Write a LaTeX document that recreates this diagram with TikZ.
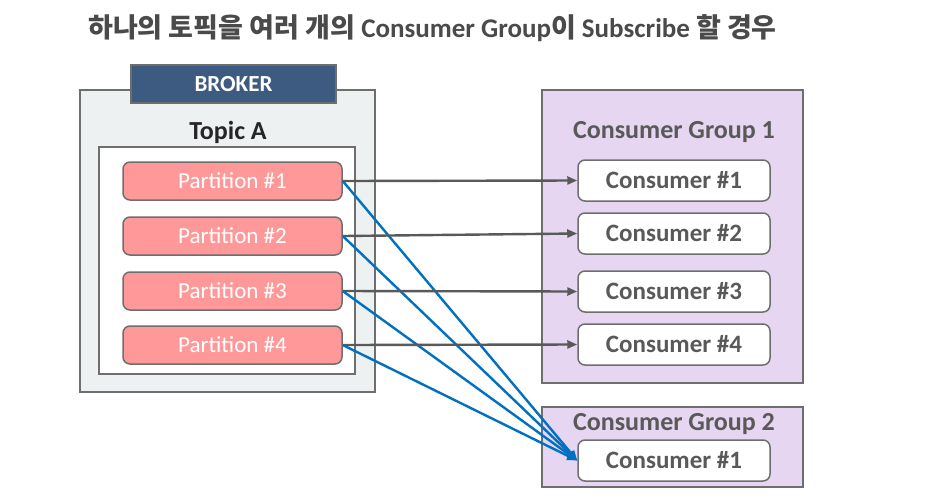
\documentclass[tikz,border=0pt]{standalone}
\usepackage{fontspec}
\setmainfont{Carlito}
\newfontfamily\krfont{Noto Sans CJK KR}
\usetikzlibrary{arrows.meta}
\definecolor{brokerblue}{HTML}{3D5A80}
\definecolor{brokerfill}{HTML}{EEF1F2}
\definecolor{linegray}{HTML}{6E6E6E}
\definecolor{partpink}{HTML}{FF9999}
\definecolor{groupfill}{HTML}{E6D6F1}
\definecolor{textgray}{HTML}{595959}
\definecolor{titlegray}{HTML}{4A4A4A}
\definecolor{arrowblue}{HTML}{0070C0}

\begin{document}
\begin{tikzpicture}[x=1pt,y=-1pt,
    box/.style={draw=linegray,line width=1.5pt,inner sep=0pt},
    part/.style={box,fill=partpink,rounded corners=7pt,minimum width=219pt,minimum height=38pt,text=white,font=\fontsize{23}{23}\selectfont},
    cons/.style={box,fill=white,rounded corners=7pt,minimum width=192pt,minimum height=41pt,text=textgray,font=\fontsize{25}{25}\selectfont\bfseries},
    grouplabel/.style={text=textgray,font=\fontsize{26}{26}\selectfont\bfseries},
    graycon/.style={draw=textgray,line width=2.4pt,-{Triangle[length=10pt,width=8pt]}},
    bluecon/.style={draw=arrowblue,line width=2.4pt,-{Triangle[length=10pt,width=8pt]}}]
    \useasboundingbox (0,0) rectangle (945,499);
    % title
    \node[anchor=base west,text=titlegray,inner sep=0pt,font=\fontsize{27}{27}\selectfont\bfseries] (title) at (88,37)
        {{\krfont 하나의 토픽을 여러 개의} Consumer Group{\krfont 이} Subscribe {\krfont 할 경우}};
    % broker
    \node[box,fill=brokerfill,minimum width=295pt,minimum height=302pt] (broker) at (227.5,241) {};
    \node[box,draw=linegray,fill=brokerblue,minimum width=205pt,minimum height=38pt,text=white,font=\fontsize{23}{23}\selectfont\bfseries] (brokerlabel) at (233.5,84) {BROKER};
    \node[text=black!85,font=\fontsize{26}{26}\selectfont\bfseries] (topic) at (228,132) {Topic A};
    \node[box,fill=white,minimum width=256pt,minimum height=227pt] (topicbox) at (227,260.5) {};
    \foreach \i/\y in {1/181,2/236,3/291,4/345}{
        \node[part] (p\i) at (232.5,\y) {Partition \#\i};
    }
    % consumer groups
    \node[box,fill=groupfill,minimum width=261pt,minimum height=293pt] (grp1) at (672.5,236.5) {};
    \node[grouplabel] (grp1label) at (674,132) {Consumer Group 1};
    \foreach \i/\y in {1/180.5,2/233.5,3/291.5,4/344.5}{
        \node[cons] (c\i) at (674,\y) {\raisebox{-2pt}{Consumer \#\i}};
    }
    \node[box,fill=groupfill,minimum width=261pt,minimum height=80pt] (grp2) at (672.5,447) {};
    \node[grouplabel] (grp2label) at (674,424) {Consumer Group 2};
    \node[cons] (d1) at (674,460.5) {\raisebox{-2pt}{Consumer \#1}};
    % arrows
    \foreach \i in {1,...,4}{
        \draw[graycon] (p\i.east) -- (c\i.west);
        \draw[bluecon] (p\i.east) -- (d1.west);
    }
\end{tikzpicture}
\end{document}
